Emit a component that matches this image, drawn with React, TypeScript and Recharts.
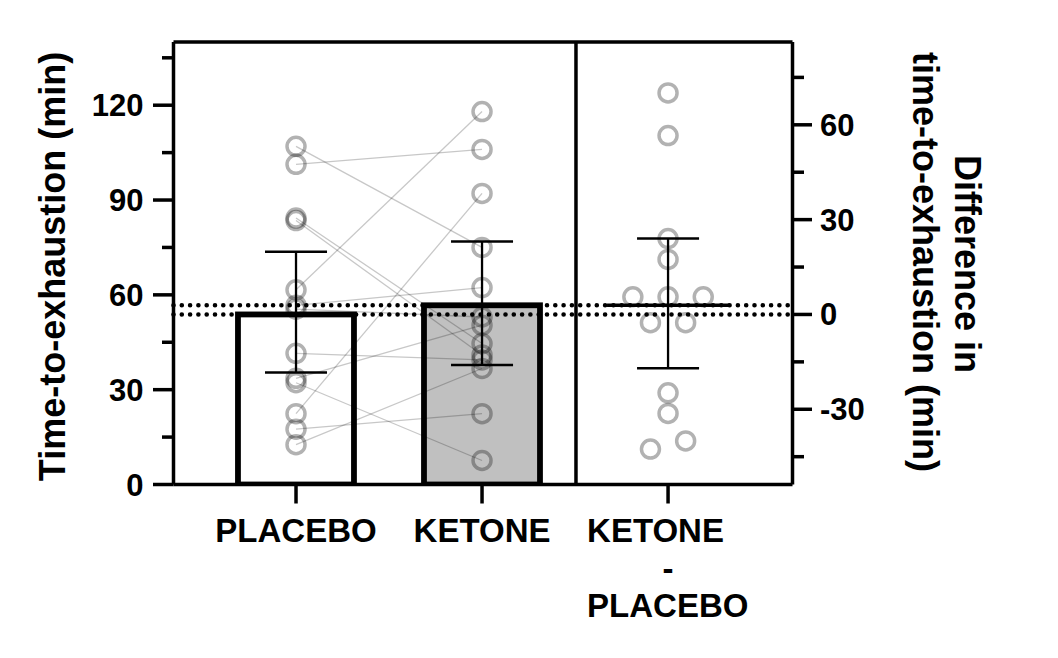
import React from "react";
import {
  ComposedChart,
  Bar,
  Cell,
  Line,
  Scatter,
  XAxis,
  YAxis,
  ReferenceLine,
  Label,
} from "recharts";

const FONT = "'Liberation Sans', Arial, Helvetica, sans-serif";

// categories on a numeric x axis (1, 2, 3)
const categoryX = [1, 2, 3];
const categoryLabels = ["PLACEBO", "KETONE", "KETONE\n-\nPLACEBO"];
const barFills = ["#ffffff", "#c0c0c0"];

// group summaries (min)
const groupMeans = [53.8, 56.7];
const groupCiLow = [35.4, 37.8];
const groupCiHigh = [73.6, 76.9];

// paired difference summary (min)
const diffMean = 2.9;
const diffCiLow = -17;
const diffCiHigh = 24;

// individual participants (min)
const placebo = [107, 101.3, 84.3, 83.5, 61.6, 56.7, 55.5, 41.5, 33.6, 32.2, 22.4, 17.5, 12.6];
const ketone = [75, 106, 44.6, 41, 118, 62.3, 53, 39.4, 50.4, 7.6, 92.1, 22.4, 36.7];
const diffs = [-31.3, 5.6, -40, -42.6, 56.6, 5.6, -2.6, -2.6, 17.4, -24.8, 70.1, 5.6, 24];
const diffJitter = [0, 0, 1, -1, 0, -2, -1, 1, 0, 0, 0, 2, 0];

const leftTicks = [0, 15, 30, 45, 60, 75, 90, 105, 120, 135];
const rightTicks = [-45, -30, -15, 0, 15, 30, 45, 60, 75];
const leftDomain = [0, 140];

const X_DOMAIN = [0.3414, 3.669];
const JITTER_STEP = 0.0946;
const CAP_HALF = 0.1667;
const DIFF_MEAN_HALF = 0.328;
const DIVIDER_X = 2.505;
const BAR_PX = 116;

const barData = groupMeans.map((m, i) => ({ x: categoryX[i], mean: m }));
const placeboPts = placebo.map((v) => ({ x: categoryX[0], v }));
const ketonePts = ketone.map((v) => ({ x: categoryX[1], v }));
const diffPts = diffs.map((v, i) => ({ x: categoryX[2] + diffJitter[i] * JITTER_STEP, v }));
const pairData = placebo.map((p, i) => [
  { x: categoryX[0], v: p },
  { x: categoryX[1], v: ketone[i] },
]);

const Ring = (props: any) => {
  const { cx, cy } = props;
  if (cx == null || cy == null) return null;
  return (
    <circle cx={cx} cy={cy} r={9} fill="none" stroke="#000" strokeOpacity={0.3} strokeWidth={3.5} />
  );
};

const BarShape = (props: any) => {
  const { x, y, width, height, fill } = props;
  if (x == null || y == null) return null;
  const cx = x + width / 2;
  return (
    <rect
      x={cx - BAR_PX / 2}
      y={y}
      width={BAR_PX}
      height={height}
      fill={fill}
      stroke="#000"
      strokeWidth={5.8}
    />
  );
};

const textStyle = { fontFamily: FONT, fontWeight: 700, fill: "#000" } as const;

const LeftTick = (props: any) => {
  const { x, y, payload } = props;
  const major = payload.value % 30 === 0;
  return (
    <g>
      <line x1={x} x2={x - (major ? 20.5 : 11.5)} y1={y} y2={y} stroke="#000" strokeWidth={3.5} />
      {major && (
        <text x={x - 30} y={y + 11} textAnchor="end" fontSize={31} {...textStyle}>
          {payload.value}
        </text>
      )}
    </g>
  );
};

const RightTick = (props: any) => {
  const { x, y, payload } = props;
  const major = payload.value % 30 === 0;
  return (
    <g>
      <line x1={x} x2={x + (major ? 19.5 : 11.5)} y1={y} y2={y} stroke="#000" strokeWidth={3.5} />
      {major && (
        <text x={x + 27.5} y={y + 11} textAnchor="start" fontSize={31} {...textStyle}>
          {payload.value}
        </text>
      )}
    </g>
  );
};

const BottomTick = (props: any) => {
  const { x, y, payload } = props;
  const idx = categoryX.indexOf(payload.value);
  const label = idx >= 0 ? categoryLabels[idx] : "";
  const lines = label.split("\n");
  return (
    <g>
      <line x1={x} x2={x} y1={y} y2={y + 19} stroke="#000" strokeWidth={3.5} />
      {lines.length === 1 ? (
        <text x={x} y={y + 57.5} textAnchor="middle" fontSize={33} {...textStyle}>
          {label}
        </text>
      ) : (
        lines.map((ln, i) => (
          <text
            key={i}
            x={ln === "-" ? x : x - 81}
            y={y + 57.5 + i * 37.5}
            textAnchor={ln === "-" ? "middle" : "start"}
            fontSize={33}
            {...textStyle}
          >
            {ln}
          </text>
        ))
      )}
    </g>
  );
};

export default function App() {
  const placeboMean = groupMeans[0];
  const rightDomain = [leftDomain[0] - placeboMean, leftDomain[1] - placeboMean];

  return (
    <div style={{ width: 1040, height: 640 }}>
      <ComposedChart
        width={1040}
        height={640}
        data={barData}
        margin={{ top: 34, right: 195.5, left: 105.5, bottom: 123.5 }}
      >
        <XAxis
          type="number"
          dataKey="x"
          domain={X_DOMAIN}
          allowDataOverflow
          ticks={categoryX}
          interval={0}
          tick={<BottomTick />}
          tickLine={false}
          tickSize={0}
          tickMargin={0}
          axisLine={{ stroke: "#000", strokeWidth: 3.5 }}
          height={40}
        />
        <YAxis
          yAxisId="left"
          orientation="left"
          type="number"
          domain={leftDomain}
          allowDataOverflow
          ticks={leftTicks}
          interval={0}
          tick={<LeftTick />}
          tickLine={false}
          tickSize={0}
          tickMargin={0}
          axisLine={{ stroke: "#000", strokeWidth: 3.5 }}
          width={60}
        >
          <Label
            content={() => (
              <text
                x={57}
                y={258.5}
                transform="rotate(-90 57 258.5)"
                textAnchor="middle"
                fontSize={36}
                {...textStyle}
              >
                Time-to-exhaustion (min)
              </text>
            )}
          />
        </YAxis>
        <YAxis
          yAxisId="right"
          orientation="right"
          type="number"
          domain={rightDomain}
          allowDataOverflow
          ticks={rightTicks}
          interval={0}
          tick={<RightTick />}
          tickLine={false}
          tickSize={0}
          tickMargin={0}
          axisLine={{ stroke: "#000", strokeWidth: 3.5 }}
          width={60}
        >
          <Label
            content={() => (
              <g>
                <text
                  x={947}
                  y={256}
                  transform="rotate(90 947 256)"
                  textAnchor="middle"
                  fontSize={36}
                  {...textStyle}
                >
                  Difference in
                </text>
                <text
                  x={905}
                  y={254}
                  transform="rotate(90 905 254)"
                  textAnchor="middle"
                  fontSize={36}
                  {...textStyle}
                >
                  time-to-exhaustion (min)
                </text>
              </g>
            )}
          />
        </YAxis>

        <Bar yAxisId="left" dataKey="mean" shape={<BarShape />} isAnimationActive={false}>
          {barData.map((d, i) => (
            <Cell key={i} fill={barFills[i]} />
          ))}
        </Bar>

        {pairData.map((pd, i) => (
          <Line
            key={"pair" + i}
            yAxisId="left"
            data={pd}
            dataKey="v"
            stroke="#000"
            strokeOpacity={0.22}
            strokeWidth={1.3}
            dot={false}
            activeDot={false}
            isAnimationActive={false}
          />
        ))}

        <Scatter yAxisId="left" data={placeboPts} dataKey="v" shape={<Ring />} isAnimationActive={false} />
        <Scatter yAxisId="left" data={ketonePts} dataKey="v" shape={<Ring />} isAnimationActive={false} />
        <Scatter yAxisId="right" data={diffPts} dataKey="v" shape={<Ring />} isAnimationActive={false} />

        <ReferenceLine yAxisId="left" y={leftDomain[1]} stroke="#000" strokeWidth={3.5} />
        <ReferenceLine yAxisId="left" x={DIVIDER_X} stroke="#000" strokeWidth={3.5} />

        {groupMeans.map((m, i) => (
          <React.Fragment key={"eb" + i}>
            <ReferenceLine
              yAxisId="left"
              segment={[
                { x: categoryX[i], y: groupCiLow[i] },
                { x: categoryX[i], y: groupCiHigh[i] },
              ]}
              stroke="#000"
              strokeWidth={2.3}
            />
            <ReferenceLine
              yAxisId="left"
              segment={[
                { x: categoryX[i] - CAP_HALF, y: groupCiHigh[i] },
                { x: categoryX[i] + CAP_HALF, y: groupCiHigh[i] },
              ]}
              stroke="#000"
              strokeWidth={2.5}
            />
            <ReferenceLine
              yAxisId="left"
              segment={[
                { x: categoryX[i] - CAP_HALF, y: groupCiLow[i] },
                { x: categoryX[i] + CAP_HALF, y: groupCiLow[i] },
              ]}
              stroke="#000"
              strokeWidth={2.5}
            />
          </React.Fragment>
        ))}

        <ReferenceLine
          yAxisId="right"
          segment={[
            { x: categoryX[2], y: diffCiLow },
            { x: categoryX[2], y: diffCiHigh },
          ]}
          stroke="#000"
          strokeWidth={2.3}
        />
        <ReferenceLine
          yAxisId="right"
          segment={[
            { x: categoryX[2] - CAP_HALF, y: diffCiHigh },
            { x: categoryX[2] + CAP_HALF, y: diffCiHigh },
          ]}
          stroke="#000"
          strokeWidth={2.5}
        />
        <ReferenceLine
          yAxisId="right"
          segment={[
            { x: categoryX[2] - CAP_HALF, y: diffCiLow },
            { x: categoryX[2] + CAP_HALF, y: diffCiLow },
          ]}
          stroke="#000"
          strokeWidth={2.5}
        />
        <ReferenceLine
          yAxisId="right"
          segment={[
            { x: categoryX[2] - DIFF_MEAN_HALF, y: diffMean },
            { x: categoryX[2] + DIFF_MEAN_HALF, y: diffMean },
          ]}
          stroke="#000"
          strokeWidth={3.5}
        />

        {groupMeans.map((m, i) => (
          <ReferenceLine
            key={"dot" + i}
            yAxisId="left"
            y={m}
            stroke="#000"
            strokeWidth={4.6}
            strokeDasharray="0 8.3"
            strokeLinecap="round"
          />
        ))}
      </ComposedChart>
    </div>
  );
}
